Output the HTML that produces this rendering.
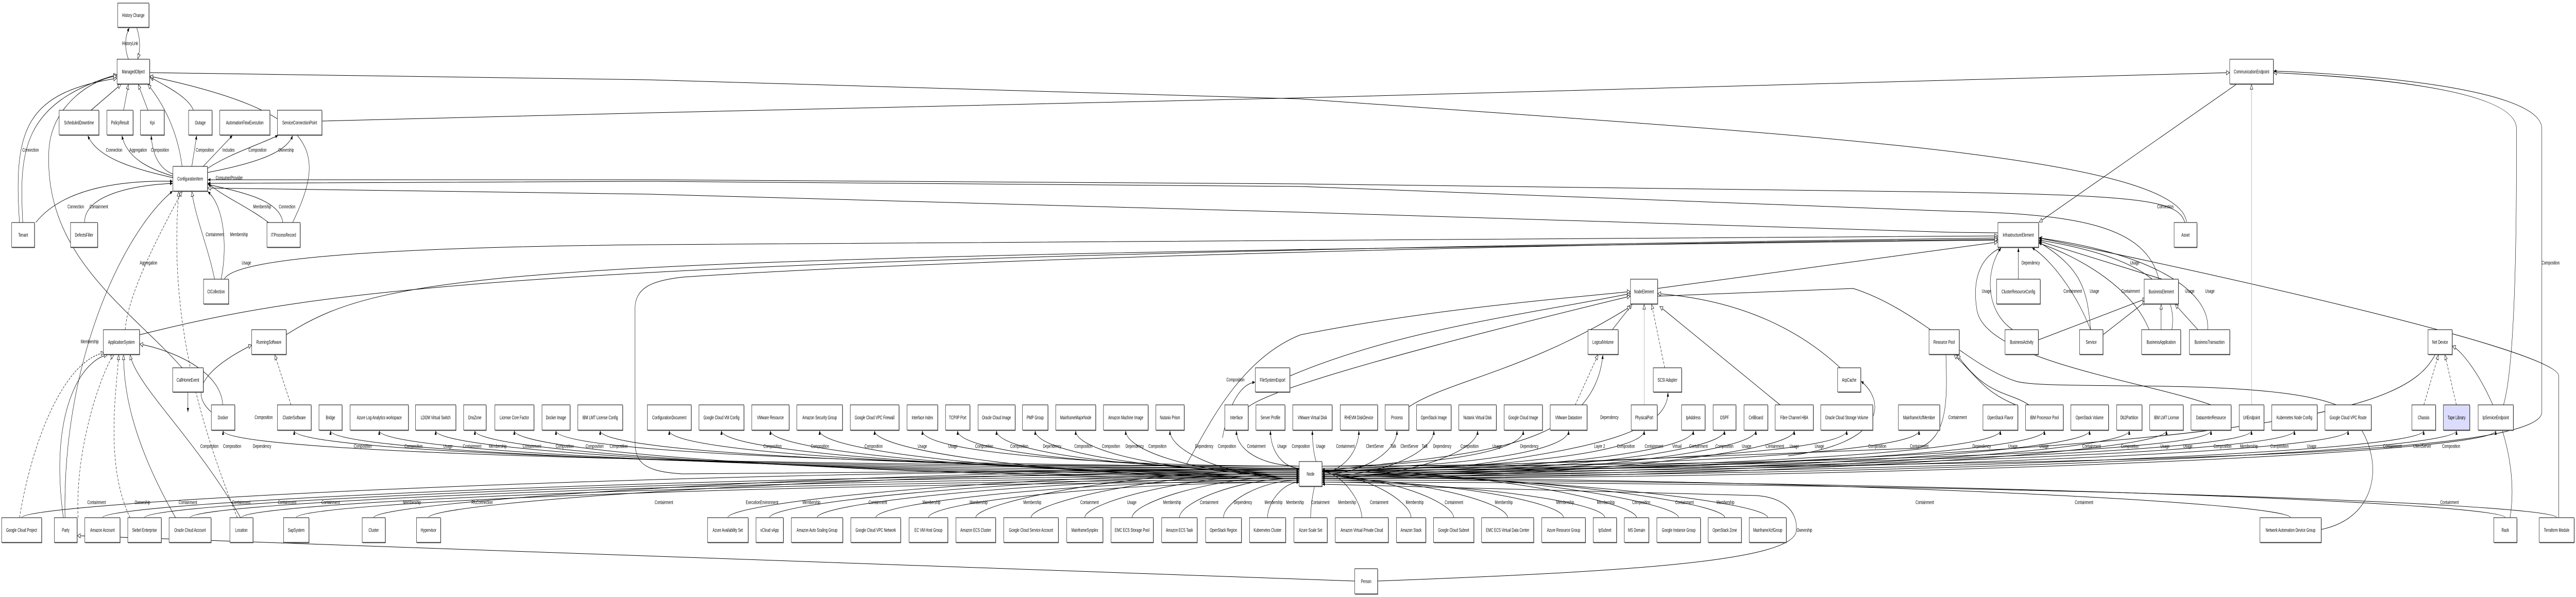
<!DOCTYPE html>
<html><head><meta charset="utf-8"><style>
html,body{margin:0;padding:0;background:#fff;width:100%;height:100%;overflow:hidden}
svg{display:block;width:100vw;height:100vh}
text{font-family:"Liberation Sans",sans-serif;font-size:10px;fill:#000}
</style></head><body>
<svg id="s" xmlns="http://www.w3.org/2000/svg" viewBox="0 0 7923 1159" preserveAspectRatio="none">
<defs>
<marker id="f" viewBox="0 0 10 10" refX="10" refY="5" markerWidth="8" markerHeight="8" markerUnits="userSpaceOnUse" orient="auto"><path d="M0,1 L10,5 L0,9z" fill="#000"/></marker>
<marker id="h" viewBox="0 0 12 12" refX="11" refY="6" markerWidth="11" markerHeight="11" markerUnits="userSpaceOnUse" orient="auto"><path d="M1,1.5 L11,6 L1,10.5z" fill="#fff" stroke="#000" stroke-width="1"/></marker>
</defs>
<g id="g"></g>
</svg>
<script>
var R={0:[6,53],1:[115,163],2:[214,262],3:[323,371],4:[432,480],5:[542,590],6:[640,688],7:[714,761],8:[786,835],9:[896,944],10:[1005,1053],11:[1104,1153]};
var N=[
["History Change",362,458,0],
["ManagedObject",360,460,1],["CommunicationEndpoint",6858,6992,1],
["ScheduledDowntime",182,304,2],["PolicyResult",329,409,2],["Kpi",432,505,2],["Outage",580,652,2],["AutomationFlowExecution",676,830,2],["ServiceConnectionPoint",853,990,2],
["ConfigurationItem",532,638,3],
["Tenant",36,106,4],["DefectsFilter",217,300,4],["ITProcessRecord",821,923,4],["InfrastructureElement",6145,6270,4],["Asset",6687,6757,4],
["CICollection",626,703,5],["NodeElement",5015,5098,5],["ClusterResourceConfig",6141,6275,5],["BusinessElement",6595,6700,5],
["ApplicationSystem",318,429,6],["RunningSoftware",774,880,6],["LogicalVolume",4884,4977,6],["Resource Pool",5933,6026,6],["BusinessActivity",6167,6269,6],["Service",6396,6468,6],["BusinessApplication",6587,6707,6],["BusinessTransaction",6734,6858,6],["Net Device",7468,7542,6],
["CallHomeEvent",531,625,7],["FileSystemExport",3861,3967,7],["SCSI Adapter",5085,5172,7],["ArpCache",5652,5723,7],
["Node",3996,4066,9],["Person",4167,4237,11]];
var T=[["Docker",650,722],["ClusterSoftware",853,957],["Bridge",981,1052],["Azure Log Analytics workspace",1077,1256],["LDOM Virtual Switch",1278,1402],["DnsZone",1426,1495],["License Core Factor",1522,1642],["Docker Image",1667,1753],["IBM LMT License Config",1777,1915],["ConfigurationDocument",1991,2126],["Google Cloud VM Config",2150,2288],["VMware Resource",2312,2427],["Amazon Security Group",2451,2591],["Google Cloud VPC Firewall",2615,2765],["Interface Index",2790,2884],["TCP/IP Port",2908,2983],["Oracle Cloud Image",3008,3122],["PMP Group",3145,3223],["MainframeMajorNode",3247,3370],["Amazon Machine Image",3394,3531],["Nutanix Prism",3555,3642],["Interface",3767,3839],["Server Profile",3863,3952],["VMware Virtual Disk",3976,4097],["RHEVM DiskDevice",4122,4237],["Process",4260,4333],["OpenStack Image",4357,4463],["Nutanix Virtual Disk",4487,4602],["Google Cloud Image",4626,4744],["VMware Datastore",4768,4881],["PhysicalPort",5017,5097],["IpAddress",5172,5244],["OSPF",5269,5339],["CellBoard",5364,5437],["Fibre Channel HBA",5460,5577],["Oracle Cloud Storage Volume",5600,5760],["MainframeXcfMember",5839,5966],["OpenStack Flavor",6099,6206],["IBM Processor Pool",6230,6346],["OpenStack Volume",6369,6485],["Db2Partition",6510,6588],["IBM LMT License",6612,6715],["DatacenterResource",6739,6862],["UrlEndpoint",6887,6963],["Kubernetes Node Config",6987,7127],["Google Cloud VPC Route",7151,7293],["Chassis",7418,7491],["Tape Library",7515,7596],["IpServiceEndpoint",7622,7730]];
var B=[["Google Cloud Project",5,128],["Party",167,237],["Amazon Account",261,369],["Siebel Enterprise",393,496],["Oracle Cloud Account",520,649],["Location",707,778],["SapSystem",872,950],["Cluster",1114,1185],["Hypervisor",1281,1355],["Azure Availability Set",2176,2301],["vCloud vApp",2325,2409],["Amazon Auto Scaling Group",2434,2592],["Google Cloud VPC Network",2617,2770],["EC VM Host Group",2796,2915],["Amazon ECS Cluster",2940,3062],["Google Cloud Service Account",3087,3255],["MainframeSysplex",3281,3392],["EMC ECS Storage Pool",3417,3547],["Amazon ECS Task",3573,3682],["OpenStack Region",3708,3818],["Kubernetes Cluster",3843,3954],["Azure Scale Set",3980,4082],["Amazon Virtual Private Cloud",4107,4270],["Amazon Stack",4295,4385],["Google Cloud Subnet",4409,4533],["EMC ECS Virtual Data Center",4557,4717],["Azure Resource Group",4742,4876],["IpSubnet",4900,4972],["MS Domain",4996,5071],["Google Instance Group",5096,5230],["OpenStack Zone",5254,5356],["MainframeXcfGroup",5380,5494],["Network Automation Device Group",6951,7139],["Rack",7670,7741],["Terraform Module",7810,7917]];
var o=[];
function P(d,m,dash,col){o.push('<path d="'+d+'" fill="none" stroke="'+(col||'#000')+'" stroke-width="1"'+(dash?' stroke-dasharray="5,3"':'')+(m?' marker-end="url(#'+m+')"':'')+'/>');}
var i,n,cx,sx,sy;
for(i=0;i<T.length;i++){n=T[i];cx=(n[1]+n[2])/2;sx=cx<4031?3996:4066;sy=905+(i%7)*4;
P('M'+sx+','+sy+' C'+(sx+(cx-sx)*0.5)+','+sy+' '+cx+',880 '+cx+',836','f');}
for(i=0;i<B.length;i++){n=B[i];if(n[0]=="Party")continue;cx=(n[1]+n[2])/2;sx=cx<4031?3996:4066;sy=912+(i%7)*4;
P('M'+cx+',1005 C'+cx+',975 '+(sx+(cx-sx)*0.5)+','+sy+' '+sx+','+sy,'f');}
var X=[
['M395,115 C383,95 383,72 398,54','f'],['M420,53 C432,75 432,95 424,114','h'],
['M280,214 L372,164','h'],['M380,214 L395,164','h'],['M455,214 L425,164','h'],['M595,214 C580,190 520,170 462,150','h'],['M560,323 C545,250 500,200 455,164','h'],
['M532,345 C430,330 300,310 270,263','f'],['M532,342 C470,330 390,310 375,263','f'],['M532,338 C500,330 470,310 465,263','f'],['M590,323 L605,263','f'],['M625,323 L715,263','f'],['M636,328 C700,300 800,280 855,263','f'],['M638,335 C760,320 880,300 900,263','f'],
['M70,432 C60,300 60,200 359,145','h'],['M60,432 C40,250 80,180 359,152','h'],['M110,432 C200,360 400,350 531,352','f'],
['M260,432 C260,380 400,360 531,356','f'],
['M826,432 C760,400 680,380 639,355','f'],['M870,432 C860,390 760,375 639,358','f'],['M900,432 C1000,300 1000,220 461,148','h'],
['M660,542 C640,480 600,420 590,372','h'],['M680,542 C700,480 690,400 639,372','f'],['M690,542 C720,500 1200,480 2000,475 L6144,458','h'],
['M385,640 C395,560 520,420 560,372','h',1],['M429,650 C1000,560 1600,500 6144,462','h'],['M880,650 C1200,520 1600,500 6144,466','h'],
['M560,714 C400,600 140,500 150,300 C150,200 300,150 359,148','h'],
['M60,1005 C100,850 200,700 320,685','h',1],['M195,1005 C150,800 250,700 330,689','h'],['M240,1005 C230,850 330,700 350,689','h',1],['M400,1005 C320,900 360,750 365,689','h',1],['M540,1005 C400,850 380,750 380,689','h'],['M740,1005 C600,850 420,750 400,689','h'],['M685,786 C680,720 530,680 430,668','h'],
['M200,1005 C190,700 380,450 531,371','f'],['M730,1005 C600,800 520,600 550,372','h',1],
['M895,786 L845,689','h',1],['M650,800 C560,750 680,700 774,670','h'],
['M578,761 L578,800','f'],
['M460,141 L2000,155 L4000,192 C5500,260 6700,300 6725,431',''],
['M990,235 L2000,219 L4000,190 L6857,141','h'],
['M6144,452 L6000,451 L4000,412 L2000,377 L639,365','h'],
['M6640,542 C6600,440 6400,415 6000,410 L4000,362 L2000,352 L639,356','f'],
['M6720,432 C6700,390 6600,380 6000,373 L4000,357 L2000,349 L639,349','f'],
['M5098,560 L6144,470','h'],['M6880,163 L6272,431','h'],
['M7700,786 C7740,700 7740,400 7740,250 C7740,160 7100,145 6993,141','h'],
['M4066,915 C6000,900 7818,900 7818,800 L7818,250 C7818,160 7100,140 6993,138','f'],
['M7455,786 L7500,689','h',1],['M7555,786 L7520,689','h',1],['M7720,1005 C7760,850 7600,690 7543,672','h'],['M7490,688 C7400,800 7000,880 4067,925','f'],
['M7870,1005 L7870,730 C7870,680 6800,530 6271,462','h'],
['M7139,1028 C7350,1000 7330,850 7200,790 C7000,730 6300,760 6200,740 C6050,710 5900,600 5700,560 L5098,575',''],
['M6800,786 C6600,740 6100,700 6080,600 C6060,520 6120,490 6155,481','h'],
['M6200,786 C6100,760 6080,730 6010,689','h'],['M6240,786 C6180,760 6110,770 6020,689','h'],
['M5985,688 C5990,780 5990,850 5900,870 L4067,915','f'],
['M6208,542 L6208,481','f'],['M6190,640 C6100,600 6110,520 6155,481','f'],['M6430,640 C6380,560 6300,500 6250,481','f'],['M6430,640 C6420,560 6400,520 6271,470','f'],['M6610,640 C6560,560 6400,500 6271,472','f'],['M6680,640 C6700,560 6600,500 6271,466','f'],['M6790,640 C6800,560 6600,490 6271,462','f'],['M6650,542 L6271,468','f'],
['M6269,660 L6600,580','h'],['M6468,650 L6600,585','h'],['M6647,640 L6647,591','h'],['M6760,640 L6690,591','h'],
['M4959,640 L5020,591','h'],['M5057,786 L5057,591','h',0,'#999'],['M5120,714 L5080,591','h',1],['M5475,786 L5105,595','h'],['M5660,714 C5500,620 5300,580 5099,570','h'],['M4333,790 C4450,740 4700,720 5015,595','h'],['M4845,786 L4915,689','h',1],
['M4066,915 C4500,880 4900,880 4930,689','f'],['M4500,905 C4900,870 5130,840 5130,762','f'],['M5500,885 C5800,860 5800,780 5724,740','f'],
['M3839,790 C3900,760 4200,700 5014,575','h'],['M3967,730 C4300,640 4700,610 5014,570','h'],['M3650,900 C3700,850 3800,700 4000,650 C4400,600 4800,580 5014,566','h'],['M3760,850 C3780,780 3820,745 3860,742','f'],
['M6925,786 L6925,164','h',0,'#999'],
['M4166,1128 L238,1040','h'],
['M4237,1128 C5000,1110 5520,1090 5525,1030 C5530,990 5480,965 5400,962 L4067,940','f'],
['M4000,910 L2100,920 C1960,915 1953,890 1953,850 L1953,600 C1953,560 2000,545 2100,538 C3000,500 5000,470 6144,465','h']
];
for(i=0;i<X.length;i++)P(X[i][0],X[i][1],X[i][2],X[i][3]);
function box(name,x1,x2,y1,y2,fill){o.push('<rect x="'+(x1+1.5)+'" y="'+(y1+1.5)+'" width="'+(x2-x1)+'" height="'+(y2-y1)+'" fill="#777"/>');
o.push('<rect x="'+x1+'" y="'+y1+'" width="'+(x2-x1)+'" height="'+(y2-y1)+'" fill="'+(fill||'#fff')+'" stroke="#000" stroke-width="1"/>');
o.push('<text x="'+((x1+x2)/2)+'" y="'+((y1+y2)/2+3.5)+'" text-anchor="middle">'+name+'</text>');}
for(i=0;i<N.length;i++){n=N[i];box(n[0],n[1],n[2],R[n[3]][0],R[n[3]][1]);}
for(i=0;i<T.length;i++){n=T[i];box(n[0],n[1],n[2],786,835,n[0]=="Tape Library"?"#dcdcff":null);}
for(i=0;i<B.length;i++){n=B[i];box(n[0],n[1],n[2],1005,1053);}
function L(t,x,y){o.push('<text x="'+x+'" y="'+(y+3.5)+'" text-anchor="middle">'+t+'</text>');}
var TL=[[644,"Composition"],[714,"Composition"],[806,"Dependency"],[1116,"Composition"],[1272,"Composition"],[1378,"Usage"],[1452,"Containment"],[1531,"Membership"],[1636,"Containment"],[1737,"Composition"],[1829,"Composition"],[1903,"Composition"],[2376,"Composition"],[2522,"Composition"],[2687,"Composition"],[2837,"Usage"],[2931,"Usage"],[3027,"Composition"],[3135,"Composition"],[3236,"Dependency"],[3332,"Composition"],[3417,"Composition"],[3490,"Dependency"],[3560,"Composition"],[3704,"Dependency"],[3774,"Composition"],[3864,"Containment"],[3943,"Usage"],[4001,"Composition"],[4062,"Usage"],[4138,"Containment"],[4229,"ClientServer"],[4285,"Talk"],[4335,"ClientServer"],[4382,"Talk"],[4436,"Dependency"],[4520,"Composition"],[4605,"Usage"],[4704,"Dependency"],[4920,"Layer 2"],[5001,"Composition"],[5087,"Containment"],[5158,"Virtual"],[5224,"Containment"],[5304,"Composition"],[5372,"Usage"],[5459,"Containment"],[5519,"Usage"],[5596,"Usage"],[5774,"Composition"],[5903,"Containment"],[6095,"Dependency"],[6191,"Usage"],[6287,"Usage"],[6433,"Containment"],[6551,"Composition"],[6659,"Usage"],[6729,"Usage"],[6836,"Composition"],[6917,"Membership"],[7011,"Composition"],[7110,"Usage"],[7358,"Containment"],[7450,"ClientServer"],[7539,"Composition"]];
for(i=0;i<TL.length;i++)L(TL[i][1],TL[i][0],866);
var BL=[[297,"Containment"],[438,"Ownership"],[578,"Containment"],[742,"Containment"],[883,"Containment"],[1017,"Containment"],[1267,"Membership"],[1483,"RfcConnection"],[2042,"Containment"],[2344,"ExecutionEnvironment"],[2496,"Membership"],[2700,"Containment"],[2865,"Membership"],[3010,"Membership"],[3175,"Membership"],[3351,"Containment"],[3481,"Usage"],[3605,"Membership"],[3719,"Containment"],[3823,"Dependency"],[3917,"Membership"],[3983,"Membership"],[4061,"Containment"],[4143,"Membership"],[4242,"Containment"],[4351,"Membership"],[4472,"Containment"],[4625,"Membership"],[4814,"Membership"],[4939,"Membership"],[5048,"Composition"],[5181,"Containment"],[5307,"Membership"],[5920,"Containment"],[6410,"Containment"],[7534,"Containment"]];
for(i=0;i<BL.length;i++)L(BL[i][1],BL[i][0],975);
var OL=[["HistoryLink",400,84],["Connection",94,291],["Connection",351,291],["Aggregation",425,291],["Composition",492,291],["Composition",630,291],["Includes",703,291],["Composition",792,291],["Ownership",880,291],["ConsumerProvider",705,345],["Connection",233,401],["Containment",304,401],["Membership",806,401],["Connection",883,401],["Containment",661,455],["Membership",735,455],["Aggregation",457,510],["Usage",758,510],["Membership",276,663],["Composition",811,810],["Composition",3800,737],["Dependency",4950,810],["Containment",6021,810],["Ownership",5550,1029],["Composition",7845,510],["Connection",6660,401],["Dependency",6246,510],["Usage",6566,510],["Usage",6110,565],["Containment",6375,565],["Usage",6442,565],["Containment",6553,565],["Usage",6735,565],["Usage",6797,565]];
for(i=0;i<OL.length;i++)L(OL[i][0],OL[i][1],OL[i][2]);
document.getElementById('g').innerHTML=o.join('');
</script>
</body></html>
